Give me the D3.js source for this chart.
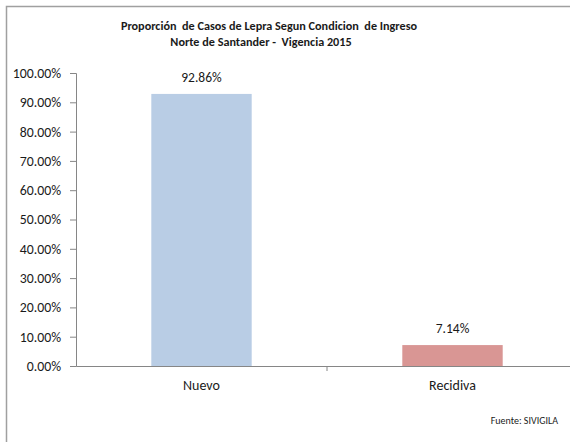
<!DOCTYPE html>
<html>
<head>
<meta charset="utf-8">
<script src="https://cdn.jsdelivr.net/npm/d3@7"></script>
<style>
  html, body { margin: 0; padding: 0; background: #fff; }
  svg { display: block; font-family: Carlito, Lato, "Open Sans", sans-serif; }
</style>
</head>
<body>
<svg id="chart" width="570" height="442"></svg>
<script>
// Proportion of leprosy cases by admission condition
const categories = ["Nuevo", "Recidiva"];
const values = [92.86, 7.14];
const barColors = ["#b9cde5", "#d99694"];
const yTicks = [0, 10, 20, 30, 40, 50, 60, 70, 80, 90, 100];
const titleLines = [
  "Proporción  de Casos de Lepra Segun Condicion  de Ingreso",
  "Norte de Santander -  Vigencia 2015"
];
const sourceNote = "Fuente: SIVIGILA";

const svg = d3.select("#chart");
const axisColor = "#868686";
const fontStack = "Carlito, Lato, 'Open Sans', sans-serif";

// outer frame (runs past the right and bottom edges)
svg.append("rect")
  .attr("x", 6.5).attr("y", 6.5)
  .attr("width", 600).attr("height", 500)
  .attr("fill", "none")
  .attr("stroke", "#a0a0a0")
  .attr("stroke-width", 1.5);

const plot = { left: 76, right: 578, top: 73, bottom: 366 };

const x = d3.scaleBand()
  .domain(categories)
  .range([plot.left, plot.right])
  .paddingInner(0)
  .paddingOuter(0);

const y = d3.scaleLinear()
  .domain([0, 100])
  .range([plot.bottom, plot.top]);

// title
svg.append("g").selectAll("text")
  .data(titleLines)
  .join("text")
  .attr("x", (d, i) => i === 0 ? 269 : 261)
  .attr("y", (d, i) => 30 + i * 16)
  .attr("text-anchor", "middle")
  .attr("font-size", 12.2)
  .attr("font-weight", "bold")
  .attr("fill", "#1a1a1a")
  .style("white-space", "pre")
  .text(d => d);

// bars
const barW = x.bandwidth() * 0.4;
svg.append("g").selectAll("rect")
  .data(values)
  .join("rect")
  .attr("x", (d, i) => x(categories[i]) + (x.bandwidth() - barW) / 2)
  .attr("y", d => y(d))
  .attr("width", barW)
  .attr("height", d => y(0) - y(d) + 1)
  .attr("fill", (d, i) => barColors[i]);

// value labels
svg.append("g").selectAll("text")
  .data(values)
  .join("text")
  .attr("x", (d, i) => x(categories[i]) + x.bandwidth() / 2)
  .attr("y", d => y(d) - 12)
  .attr("text-anchor", "middle")
  .attr("font-size", 13.5)
  .attr("fill", "#1a1a1a")
  .text(d => d.toFixed(2) + "%");

// y axis
const yAxis = svg.append("g")
  .attr("transform", `translate(${plot.left},0)`)
  .call(d3.axisLeft(y).tickValues(yTicks).tickSize(6).tickPadding(9)
    .tickFormat(d => d.toFixed(2) + "%"));
yAxis.select(".domain").attr("stroke", axisColor);
yAxis.selectAll(".tick line").attr("stroke", axisColor);
yAxis.selectAll(".tick text")
  .attr("font-size", 13.8)
  .attr("font-family", fontStack)
  .attr("fill", "#1a1a1a");

// x axis
const xAxis = svg.append("g")
  .attr("transform", `translate(0,${plot.bottom})`)
  .call(d3.axisBottom(x).tickSize(0).tickPadding(14));
xAxis.select(".domain").attr("stroke", axisColor);
xAxis.selectAll(".tick text")
  .attr("font-size", 14)
  .attr("font-family", fontStack)
  .attr("fill", "#1a1a1a");
// separators between categories
svg.append("g").selectAll("line")
  .data(categories.slice(1))
  .join("line")
  .attr("x1", d => x(d)).attr("x2", d => x(d))
  .attr("y1", plot.bottom).attr("y2", plot.bottom + 5)
  .attr("stroke", axisColor);

// source note
svg.append("text")
  .attr("x", 558)
  .attr("y", 424)
  .attr("text-anchor", "end")
  .attr("font-size", 10)
  .attr("fill", "#1a1a1a")
  .text(sourceNote);
</script>
</body>
</html>
